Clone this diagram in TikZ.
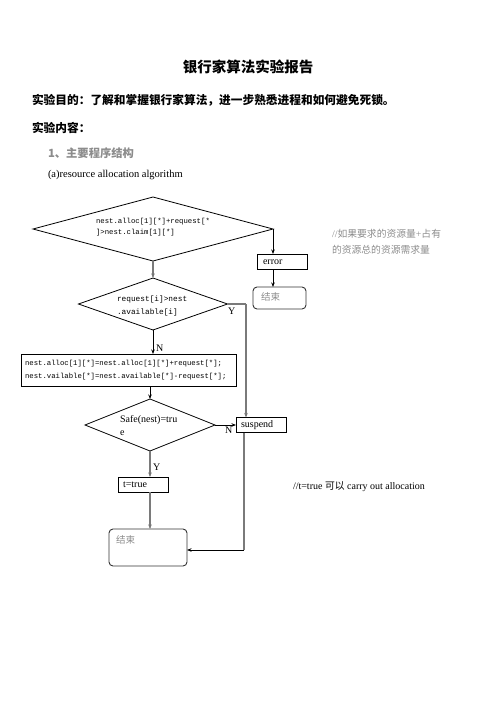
\documentclass[tikz,border=0pt]{standalone}
\usepackage{fontspec}
\setmainfont{Liberation Serif}
\setmonofont{Liberation Mono}
\newfontfamily\cjk{Noto Sans CJK SC}
\usetikzlibrary{shapes.geometric,arrows.meta,calc}
\definecolor{lgray}{HTML}{7A7A7A}
\definecolor{tgray}{HTML}{8C8C8C}
\begin{document}
\begin{tikzpicture}[x=1pt,y=-1pt,
  every node/.style={inner sep=0pt,outer sep=0pt},
  dia/.style={diamond,draw,line width=0.8pt},
  box/.style={rectangle,draw,line width=0.8pt},
  rbox/.style={rectangle,draw,line width=0.9pt,rounded corners=4pt,draw=black!80},
  arr/.style={line width=0.8pt,-{Stealth[length=4.5pt,width=3.5pt]}},
  garr/.style={line width=1.3pt,draw=lgray,-{Stealth[length=4.5pt,width=3.5pt,fill=black]}},
  gline/.style={line width=1.3pt,draw=lgray},
  code/.style={font=\fontsize{7.3}{11}\ttfamily,anchor=west},
  lbl/.style={font=\fontsize{10}{12}\selectfont,anchor=west}
]
\useasboundingbox (0,0) rectangle (496,702);
% header texts
\node (title) at (248,67) {\cjk\bfseries\fontsize{14.5}{16}\selectfont 银行家算法实验报告};
\node[anchor=west] (aim) at (32,100) {\cjk\bfseries\fontsize{11.7}{14}\selectfont 实验目的：了解和掌握银行家算法，进一步熟悉进程和如何避免死锁。};
\node[anchor=west] (cont) at (32,128) {\cjk\bfseries\fontsize{11.7}{14}\selectfont 实验内容：};
\node[anchor=west,text=tgray] (sec) at (48,153) {\cjk\bfseries\fontsize{11.3}{14}\selectfont 1、主要程序结构};
\node[anchor=west] (sub) at (48,175) {\fontsize{10.5}{12}\selectfont (a)resource allocation algorithm};

% diamonds
\node[dia,minimum width=240pt,minimum height=64pt] (d1) at (153,229) {};
\node[code] (d1t1) at (96,222) {nest.alloc[1][*]+request[*};
\node[code] (d1t2) at (96,233) {]>nest.claim[1][*]};

\node[dia,minimum width=149pt,minimum height=52pt] (d2) at (153,304) {};
\node[code,font=\fontsize{7.8}{11}\ttfamily] (d2t1) at (117,299) {request[i]>nest};
\node[code,font=\fontsize{7.8}{11}\ttfamily] (d2t2) at (117,312) {.available[i]};

\node[dia,minimum width=130pt,minimum height=52pt] (d3) at (150,425) {};
\node[lbl] (d3t1) at (120,420) {Safe(nest)=tru};
\node[lbl] (d3t2) at (120,433) {e};

% boxes
\node[box,minimum width=50pt,minimum height=15pt] (err) at (282,261.5) {};
\node[lbl] (errt) at (263,262) {error};
\node[rbox,minimum width=53pt,minimum height=22pt] (end1) at (279.5,298) {};
\node[lbl,text=tgray] (end1t) at (261,297) {\cjk\fontsize{9.5}{11}\selectfont 结束};

\node[box,minimum width=215pt,minimum height=32pt] (proc) at (128.5,370) {};
\node[code] (pt1) at (25,364) {nest.alloc[1][*]=nest.alloc[1][*]+request[*];};
\node[code] (pt2) at (25,377) {nest.vailable[*]=nest.available[*]-request[*];};

\node[box,minimum width=50pt,minimum height=15pt] (sus) at (261,425) {};
\node[lbl] (sust) at (241,425) {suspend};

\node[box,minimum width=50pt,minimum height=15pt] (tt) at (143,484.5) {};
\node[lbl] (ttt) at (123,485) {t=true};

\node[rbox,minimum width=78pt,minimum height=37pt] (end2) at (148,547.5) {};
\node[lbl,text=tgray] (end2t) at (116,540) {\cjk\fontsize{9.5}{11}\selectfont 结束};

% comments
\node[lbl,text=tgray] (c1a) at (332,234) {//\cjk\fontsize{9.8}{12}\selectfont 如果要求的资源量\rmfamily +\cjk 占有};
\node[lbl,text=tgray] (c1b) at (332,250) {\cjk\fontsize{9.8}{12}\selectfont 的资源总的资源需求量};
\node[lbl] (c2) at (293,487) {//t=true {\cjk\fontsize{9.8}{12}\selectfont 可以} carry out allocation};

% labels
\node[lbl] (ly1) at (228,311) {Y};
\node[lbl] (ln1) at (156,348) {N};
\node[lbl] (ln2) at (225,430) {N};
\node[lbl] (ly2) at (153,467) {Y};

% connectors
\coordinate (yc) at (246,304);
\coordinate (sc) at (244,550);
\draw[arr] (d1.east) -- (d1.east |- err.north);
\draw[arr] (d1.east |- err.south) -- (d1.east |- end1.north);
\draw[garr] (d1.south) -- (d2.north);
\draw[gline] (d2.east) -- (yc);
\draw[garr] (yc) -- (yc |- sus.north);
\draw[arr] (d2.south) -- (d2.south |- proc.north);
\draw[arr] (d3.north |- proc.south) -- (d3.north);
\draw[arr] (d3.east) -- (sus.west);
\draw[garr] (d3.south) -- (d3.south |- tt.north);
\draw[garr] (d3.south |- tt.south) -- (d3.south |- end2.north);
\draw[gline] (sc |- sus.south) -- (sc);
\draw[arr] (sc) -- (end2.east |- sc);
\end{tikzpicture}
\end{document}
